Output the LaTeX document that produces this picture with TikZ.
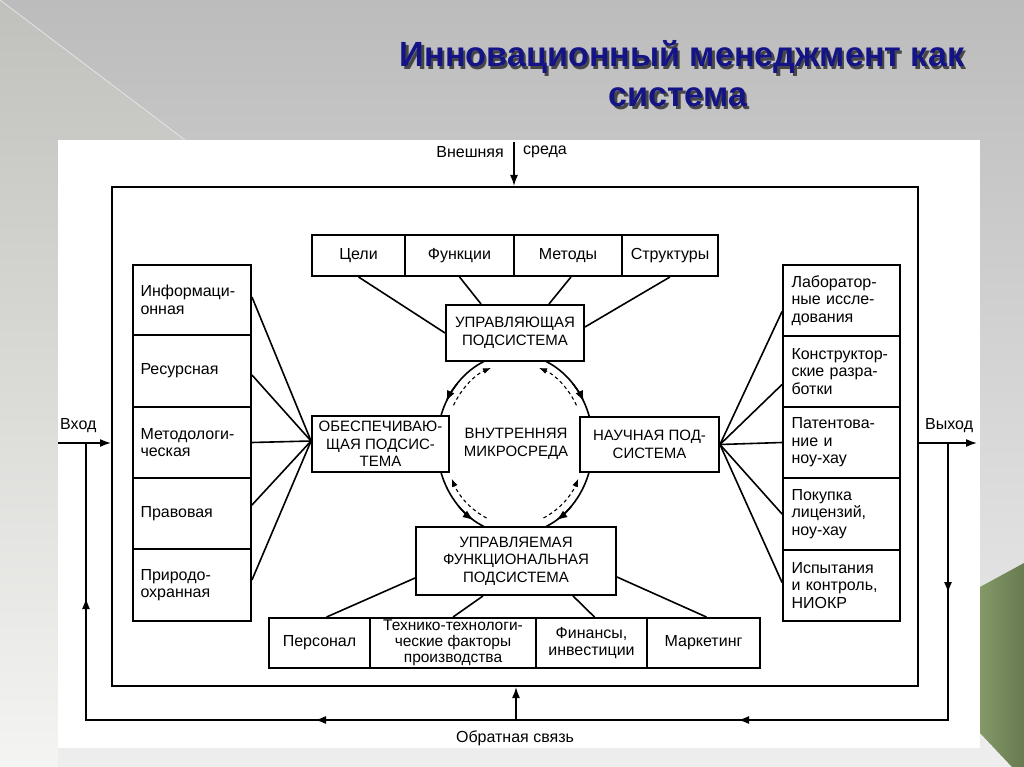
\documentclass[tikz,border=0pt]{standalone}
\usepackage{fontspec}
\setmainfont{Liberation Sans}
\usetikzlibrary{arrows.meta,calc}
\definecolor{navy}{RGB}{20,20,135}
\definecolor{bgtop}{RGB}{188,188,188}
\definecolor{bgbot}{RGB}{238,238,238}
\definecolor{lefttop}{RGB}{192,192,188}
\definecolor{leftbot}{RGB}{244,244,242}
\definecolor{olive1}{RGB}{132,152,104}
\definecolor{olive2}{RGB}{104,122,80}
\newcommand\diaglbl{\fontsize{16}{17.5}\selectfont}
\newcommand\capslbl{\fontsize{15}{17.5}\selectfont}
\newcommand\titlefnt{\fontsize{35}{40}\selectfont\bfseries}
\newcommand\shadowtext[1]{\scalebox{0.976}[1]{\rlap{\textcolor{black!72}{\kern2.2pt\raisebox{-2.2pt}{#1}}}\textcolor{navy}{#1}}}
\begin{document}
\begin{tikzpicture}[x=1pt,y=-1pt,
  box/.style={draw, line width=1.9pt, rectangle, inner sep=0pt, align=center, font=\diaglbl},
  capbox/.style={box, font=\capslbl},
  lcell/.style={box, align=left, text width=103pt, inner xsep=7.5pt, minimum height=#1},
  rcell/.style={box, align=left, text width=100pt, inner xsep=8.5pt, minimum height=#1},
  conn/.style={line width=1.6pt},
  dconn/.style={line width=1.1pt, dash pattern=on 3.5pt off 3pt},
  lab/.style={font=\diaglbl, inner sep=0pt},
  tip/.style={-{Latex[length=11pt,width=8pt]}},
  dtip/.style={-{Latex[length=8pt,width=6pt]}}
]
\useasboundingbox (0,0) rectangle (1024,767);
% slide background
\shade[top color=bgtop, bottom color=bgbot] (0,0) rectangle (1024,767);
\shade[top color=lefttop, bottom color=leftbot] (0,0) -- (185,140) -- (58,140) -- (58,767) -- (0,767) -- cycle;
\draw[white!80!gray, line width=0.8pt] (0,0) -- (185,140);
\shade[left color=olive1, right color=olive2] (980,587) -- (1024,563) -- (1024,767) -- (1012,767) -- (980,733) -- cycle;
\fill[white] (58,140) rectangle (980,748);
% title
\node[font=\titlefnt, inner sep=0pt, anchor=base] (t1) at (682,67) {\shadowtext{Инновационный менеджмент как}};
\node[font=\titlefnt, inner sep=0pt, anchor=base] (t2) at (678,107) {\shadowtext{система}};
% system frame
\node[draw, line width=2pt, rectangle, inner sep=0pt, minimum width=806pt, minimum height=499pt] (sys) at (515,436.5) {};
% top row
\node[box, minimum width=93pt, minimum height=41pt] (celi) at (358.5,255.5) {Цели};
\node[box, minimum width=109pt, minimum height=41pt] (funk) at (459.5,255.5) {Функции};
\node[box, minimum width=108pt, minimum height=41pt] (meth) at (568,255.5) {Методы};
\node[box, minimum width=96pt, minimum height=41pt] (struct) at (670,255.5) {Структуры};
% left column
\node[lcell=70pt] (info) at (192,300) {Информаци-\\онная};
\node[lcell=72pt] (res) at (192,371) {Ресурсная};
\node[lcell=71pt] (meto) at (192,442.5) {Методологи-\\ческая};
\node[lcell=71pt] (prav) at (192,513.5) {Правовая};
\node[lcell=72pt] (prir) at (192,585) {Природо-\\охранная};
% right column
\node[rcell=71pt] (lab) at (841.5,300.5) {Лаборатор-\\ные иссле-\\дования};
\node[rcell=71pt] (kon) at (841.5,371.5) {Конструктор-\\ские разра-\\ботки};
\node[rcell=71pt] (pat) at (841.5,442.5) {Патентова-\\ние и\\ноу-хау};
\node[rcell=72pt] (pok) at (841.5,514) {Покупка\\лицензий,\\ноу-хау};
\node[rcell=71pt] (isp) at (841.5,585.5) {Испытания\\и контроль,\\НИОКР};
% subsystems
\node[capbox, minimum width=138pt, minimum height=56pt] (upr) at (515,333) {УПРАВЛЯЮЩАЯ\\ПОДСИСТЕМА};
\node[capbox, minimum width=137pt, minimum height=56pt] (obes) at (380.5,444) {ОБЕСПЕЧИВАЮ-\\ЩАЯ ПОДСИС-\\ТЕМА};
\node[capbox, minimum width=139pt, minimum height=55pt] (nauch) at (649.5,444.5) {НАУЧНАЯ ПОД-\\СИСТЕМА};
\node[capbox, minimum width=200pt, minimum height=68pt] (uprf) at (516,561) {УПРАВЛЯЕМАЯ\\ФУНКЦИОНАЛЬНАЯ\\ПОДСИСТЕМА};
\node[lab, font=\capslbl, align=center] (micro) at (516,444) {ВНУТРЕННЯЯ\\МИКРОСРЕДА};
% bottom row
\node[box, minimum width=101pt, minimum height=50pt] (pers) at (319.5,643) {Персонал};
\node[box, minimum width=166pt, minimum height=50pt, font=\fontsize{15.5}{16.2}\selectfont] (tech) at (453,643) {Технико-технологи-\\ческие факторы\\производства};
\node[box, minimum width=111pt, minimum height=50pt] (fin) at (591.5,643) {Финансы,\\инвестиции};
\node[box, minimum width=113pt, minimum height=50pt] (mark) at (703.5,643) {Маркетинг};
% connectors top
\draw[conn] (celi.south) -- (upr.west);
\draw[conn] (funk.south) -- ($(upr.north west)+(36,0)$);
\draw[conn] ($(meth.south)+(3,0)$) -- ($(upr.north east)+(-36,0)$);
\draw[conn] (struct.south) -- ($(upr.east)+(0,-6)$);
% connectors left
\draw[conn] ($(info.east)+(0,-3)$) -- ($(obes.west)+(0,-3)$);
\draw[conn] ($(res.east)+(0,4)$) -- ($(obes.west)+(0,-3)$);
\draw[conn] (meto.east) -- ($(obes.west)+(0,-3)$);
\draw[conn] ($(prav.east)+(0,-8.5)$) -- ($(obes.west)+(0,-3)$);
\draw[conn] ($(prir.east)+(0,-5)$) -- ($(obes.west)+(0,-3)$);
% connectors right
\draw[conn] (nauch.east) -- ($(lab.west)+(0,11)$);
\draw[conn] (nauch.east) -- ($(kon.west)+(0,13)$);
\draw[conn] (nauch.east) -- (pat.west);
\draw[conn] (nauch.east) -- (pok.west);
\draw[conn] (nauch.east) -- ($(isp.west)+(0,-3)$);
% connectors bottom
\draw[conn] ($(uprf.west)+(0,17)$) -- ($(pers.north)+(7,0)$);
\draw[conn] ($(uprf.south)+(-33,0)$) -- (tech.north);
\draw[conn] ($(uprf.south)+(57,0)$) -- ($(fin.north)+(3,0)$);
\draw[conn] ($(uprf.east)+(0,16)$) -- ($(mark.north)+(3,0)$);
% inner microenvironment cycle (solid: control flow, dashed: feedback)
\coordinate (mc) at (515,444);
\draw[conn] ([shift={(247.3:78 and 90)}]mc) arc[start angle=247.3, end angle=198.1, x radius=78, y radius=90];
\draw[conn, tip] ([shift={(222:78 and 90)}]mc) arc[start angle=222, end angle=208, x radius=78, y radius=90];
\draw[conn] ([shift={(292.7:78 and 90)}]mc) arc[start angle=292.7, end angle=341.9, x radius=78, y radius=90];
\draw[conn, tip] ([shift={(318:78 and 90)}]mc) arc[start angle=318, end angle=332, x radius=78, y radius=90];
\draw[conn] ([shift={(161.9:78 and 90)}]mc) arc[start angle=161.9, end angle=112.7, x radius=78, y radius=90];
\draw[conn, tip] ([shift={(136:78 and 90)}]mc) arc[start angle=136, end angle=122, x radius=78, y radius=90];
\draw[conn] ([shift={(18.1:78 and 90)}]mc) arc[start angle=18.1, end angle=67.3, x radius=78, y radius=90];
\draw[conn, tip] ([shift={(44:78 and 90)}]mc) arc[start angle=44, end angle=58, x radius=78, y radius=90];
\draw[dconn, dtip] ([shift={(208.5:70 and 81)}]mc) arc[start angle=208.5, end angle=250, x radius=70, y radius=81];
\draw[dconn, dtip] ([shift={(331.5:70 and 81)}]mc) arc[start angle=331.5, end angle=290, x radius=70, y radius=81];
\draw[dconn, dtip] ([shift={(114:70 and 81)}]mc) arc[start angle=114, end angle=154.6, x radius=70, y radius=81];
\draw[dconn, dtip] ([shift={(66:70 and 81)}]mc) arc[start angle=66, end angle=25.4, x radius=70, y radius=81];
% environment, input, output, feedback
\coordinate (ext) at (514,142);
\coordinate (inS) at (58,443);
\coordinate (outE) at (977,443);
\coordinate (fbR) at (948,443);
\coordinate (fbD) at (948,593);
\coordinate (fbRB) at (948,720);
\coordinate (fbA1) at (738,720);
\coordinate (fbA2) at (315,720);
\coordinate (fbLB) at (86,720);
\coordinate (fbU) at (86,598);
\coordinate (fbL) at (86,443);
\coordinate (fbM) at (516,720);
\draw[conn, tip] (ext) -- (ext |- sys.north);
\draw[conn, tip] (inS) -- (inS -| sys.west);
\draw[conn, tip] (outE -| sys.east) -- (outE);
\draw[conn] (fbR) -- (fbRB) -- (fbLB) -- (fbL);
\draw[conn, tip] ($(fbD)+(0,-20)$) -- (fbD);
\draw[conn, tip] ($(fbA1)+(20,0)$) -- (fbA1);
\draw[conn, tip] ($(fbA2)+(20,0)$) -- (fbA2);
\draw[conn, tip] ($(fbU)+(0,20)$) -- (fbU);
\draw[conn, tip] (fbM) -- (fbM |- sys.south);
\node[lab, anchor=east] (extL) at (504,152) {Внешняя};
\node[lab, anchor=west] (extR) at (523,152) {среда};
\node[lab, anchor=west] (inL) at (60,426) {Вход};
\node[lab, anchor=west] (outL) at (925,426) {Выход};
\node[lab] (fbLbl) at (515,738) {Обратная связь};
\end{tikzpicture}
\end{document}
